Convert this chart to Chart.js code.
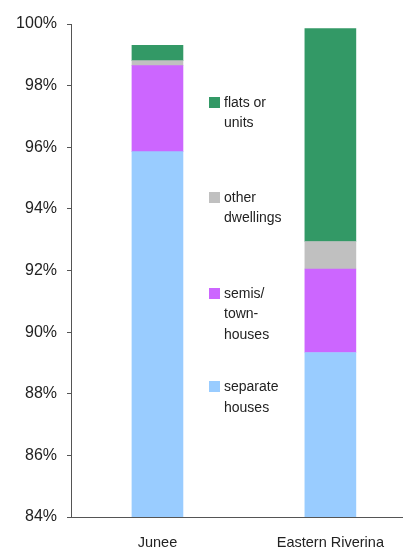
<!DOCTYPE html>
<html>
<head>
<meta charset="utf-8">
<script src="https://cdn.jsdelivr.net/npm/chart.js@4/dist/chart.umd.min.js"></script>
<style>
  html, body { margin: 0; padding: 0; background: #fff; }
  #wrap { position: relative; width: 403px; height: 549px; }
  #legend { position: absolute; left: 0; top: 0; font-family: "Liberation Sans", Arial, sans-serif; font-size: 14px; color: #222; }
  .lg-item { position: absolute; left: 209px; line-height: 20.5px; white-space: nowrap; }
  .lg-box { position: absolute; left: 0; top: 5px; width: 11px; height: 11px; }
  .lg-text { margin-left: 15px; }
</style>
</head>
<body>
<div id="wrap">
  <canvas id="chart" width="403" height="549"></canvas>
  <div id="legend"></div>
</div>
<script>
// ── Data ──
const categories = ['Junee', 'Eastern Riverina'];
const separateHouses = [95.86, 89.34];
const semisTownHouses = [2.79, 2.71];
const otherDwellings = [0.16, 0.89];
const flatsOrUnits = [0.50, 6.91];
const yTicks = [84, 86, 88, 90, 92, 94, 96, 98, 100];

const series = [
  { label: 'separate houses', lines: ['separate', 'houses'], data: separateHouses, color: '#99ccff', top: 376 },
  { label: 'semis/town-houses', lines: ['semis/', 'town-', 'houses'], data: semisTownHouses, color: '#cc66ff', top: 282.5 },
  { label: 'other dwellings', lines: ['other', 'dwellings'], data: otherDwellings, color: '#c0c0c0', top: 186.5 },
  { label: 'flats or units', lines: ['flats or', 'units'], data: flatsOrUnits, color: '#339966', top: 91.5 }
];

const axisColor = '#555';
const font = 'Liberation Sans';

new Chart(document.getElementById('chart'), {
  type: 'bar',
  data: {
    datasets: series.map(s => ({
      label: s.label,
      data: s.data.map((v, i) => ({ x: i, y: v })),
      backgroundColor: s.color,
      borderWidth: 0,
      barThickness: 51
    }))
  },
  options: {
    responsive: false,
    animation: false,
    layout: { padding: { top: 24, right: 0, bottom: 0, left: 0 } },
    plugins: { legend: { display: false }, tooltip: { enabled: false } },
    scales: {
      x: {
        type: 'linear',
        stacked: true,
        offset: false,
        min: -0.5,
        max: 1.42,
        afterBuildTicks: (scale) => { scale.ticks = categories.map((c, i) => ({ value: i })); },
        afterFit: (scale) => { scale.height = 32; },
        ticks: {
          callback: (v) => categories[v],
          color: '#222',
          font: { family: font, size: 14.5 },
          padding: 9,
          maxRotation: 0,
          autoSkip: false
        },
        grid: { display: false },
        border: { display: true, color: axisColor, width: 1 }
      },
      y: {
        stacked: true,
        min: 84,
        max: 100,
        afterBuildTicks: (scale) => { scale.ticks = yTicks.map(v => ({ value: v })); },
        afterFit: (scale) => { scale.width = 71; },
        ticks: {
          callback: (v) => v + '%',
          color: '#222',
          font: { family: font, size: 16 },
          padding: 10
        },
        grid: { drawOnChartArea: false, drawTicks: true, tickLength: 4, color: axisColor },
        border: { display: true, color: axisColor, width: 1 }
      }
    }
  }
});

// ── Legend ──
const legend = document.getElementById('legend');
legend.innerHTML = series.map(s => `
  <div class="lg-item" style="top:${s.top}px">
    <div class="lg-box" style="background:${s.color}"></div>
    <div class="lg-text">${s.lines.join('<br>')}</div>
  </div>
`).join('');
</script>
</body>
</html>
